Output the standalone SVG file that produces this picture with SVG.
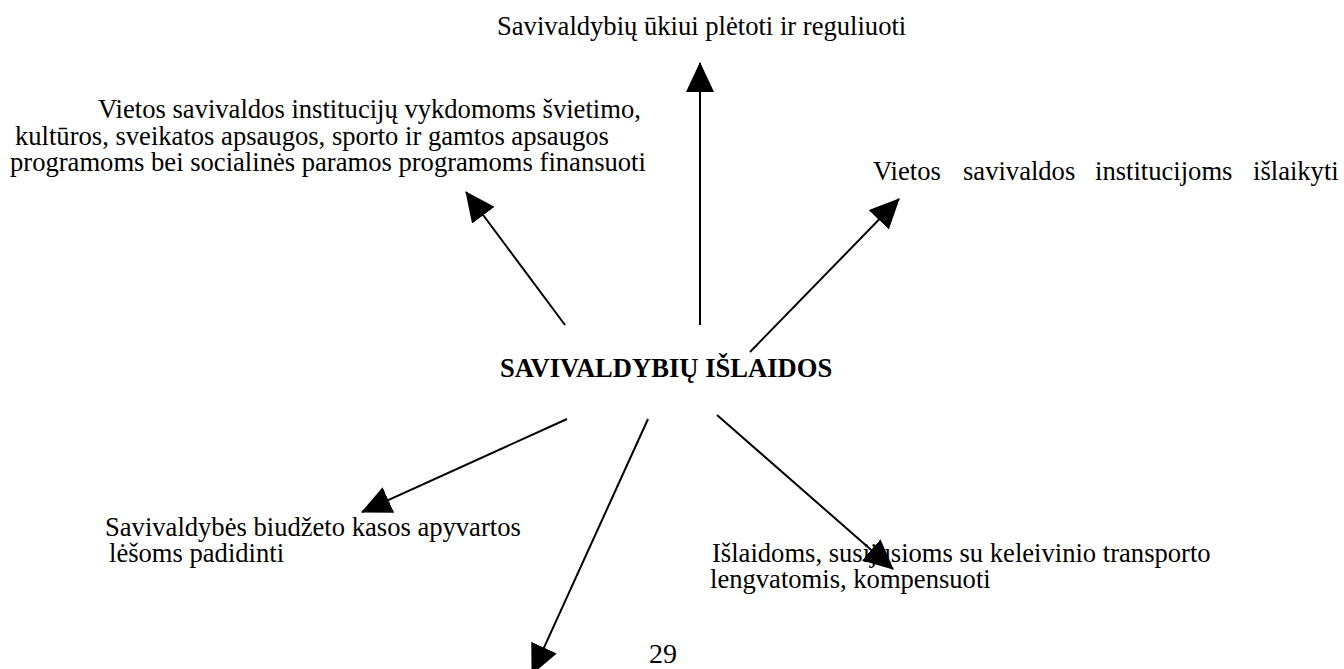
<svg xmlns="http://www.w3.org/2000/svg" width="1344" height="669" viewBox="0 0 1344 669">
<style>
text{font-family:"Liberation Serif","Times New Roman",serif;font-size:26.6px;fill:#000}
.b{font-weight:bold}
.c{stroke:#000;stroke-width:2;fill:none}
</style>
<defs>
<marker id="ah" viewBox="0 0 30 28" refX="29" refY="14" markerWidth="30" markerHeight="28" markerUnits="userSpaceOnUse" orient="auto">
<path d="M0,0L30,14L0,28z" fill="#000"/>
</marker>
</defs>
<rect width="1344" height="669" fill="#fff"/>
<g id="connectors">
<line class="c" x1="700" y1="325" x2="700" y2="63" marker-end="url(#ah)"/>
<line class="c" x1="565" y1="325" x2="466" y2="192" marker-end="url(#ah)"/>
<line class="c" x1="750" y1="352" x2="899" y2="199" marker-end="url(#ah)"/>
<line class="c" x1="567" y1="419" x2="362" y2="512" marker-end="url(#ah)"/>
<line class="c" x1="648" y1="419" x2="532" y2="674" marker-end="url(#ah)"/>
<line class="c" x1="717" y1="415" x2="893" y2="569" marker-end="url(#ah)"/>
</g>
<g id="n-top"><text x="497" y="35">Savivaldybių ūkiui plėtoti ir reguliuoti</text></g>
<g id="n-left">
<text x="98" y="118">Vietos savivaldos institucijų vykdomoms švietimo,</text>
<text x="15" y="145">kultūros, sveikatos apsaugos, sporto ir gamtos apsaugos</text>
<text x="10" y="171">programoms bei socialinės paramos programoms finansuoti</text>
</g>
<g id="n-right"><text y="180"><tspan x="873">Vietos</tspan><tspan x="963">savivaldos</tspan><tspan x="1095">institucijoms</tspan><tspan x="1253">išlaikyti</tspan></text></g>
<g id="n-center"><text class="b" x="500" y="377">SAVIVALDYBIŲ IŠLAIDOS</text></g>
<g id="n-lowleft">
<text x="105" y="536">Savivaldybės biudžeto kasos apyvartos</text>
<text x="109" y="562">lėšoms padidinti</text>
</g>
<g id="n-lowright">
<text x="712" y="562">Išlaidoms, susijusioms su keleivinio transporto</text>
<text x="710" y="588">lengvatomis, kompensuoti</text>
</g>
<g id="page"><text x="649" y="663" style="font-size:28px">29</text></g>
</svg>
